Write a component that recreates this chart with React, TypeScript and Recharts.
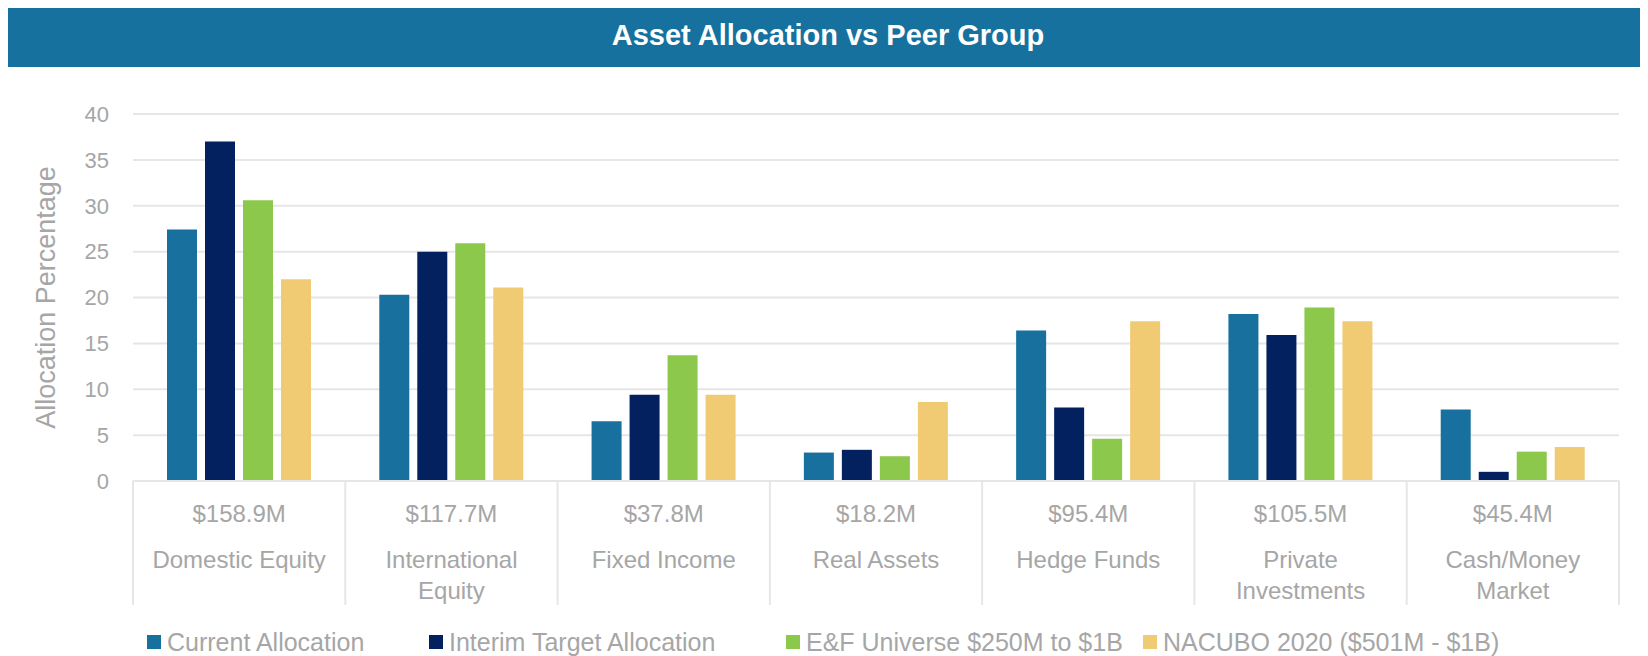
import { BarChart, Bar, XAxis, YAxis, CartesianGrid, Legend } from "recharts";

const categories = [
    "Domestic Equity",
    "International\nEquity",
    "Fixed Income",
    "Real Assets",
    "Hedge Funds",
    "Private\nInvestments",
    "Cash/Money\nMarket",
];
const assets = ["$158.9M", "$117.7M", "$37.8M", "$18.2M", "$95.4M", "$105.5M", "$45.4M"];

const currentAllocation = [27.4, 20.3, 6.5, 3.1, 16.4, 18.2, 7.8];
const interimTarget = [37.0, 25.0, 9.4, 3.4, 8.0, 15.9, 1.0];
const efUniverse = [30.6, 25.9, 13.7, 2.7, 4.6, 18.9, 3.2];
const nacubo = [22.0, 21.1, 9.4, 8.6, 17.4, 17.4, 3.7];

const yTicks = [0, 5, 10, 15, 20, 25, 30, 35, 40];

const series = [
    { key: "current", name: "Current Allocation", color: "#17709e" },
    { key: "interim", name: "Interim Target Allocation", color: "#02215e" },
    { key: "ef", name: "E&F Universe $250M to $1B", color: "#8cc84b" },
    { key: "nacubo", name: "NACUBO 2020 ($501M - $1B)", color: "#f0cb74" },
];

const data = categories.map((c, i) => ({
    category: c,
    assets: assets[i],
    current: currentAllocation[i],
    interim: interimTarget[i],
    ef: efUniverse[i],
    nacubo: nacubo[i],
}));

const FONT = "'Liberation Sans', Arial, Helvetica, sans-serif";
const GRAY = "#a6a6a6";
const LINE = "#e6e6e6";

const CHART_W = 1640;
const CHART_H = 589;
const Y_AXIS_W = 125;
const RIGHT = 29;
const BAND = (CHART_W - Y_AXIS_W - RIGHT) / categories.length;

// left edge of each legend swatch, in chart pixels
const legendX = [139, 421, 778, 1135];

const CategoryTick = (props: any) => {
    const { x, y, payload, index } = props;
    const row = data[index] || data.find((d) => d.category === payload.value);
    const lines = String(payload.value).split("\n");
    const left = x - BAND / 2;
    const right = x + BAND / 2;
    return (
        <g>
            <line x1={left} y1={y} x2={left} y2={y + 124} stroke={LINE} strokeWidth={2} />
            {index === categories.length - 1 && (
                <line x1={right} y1={y} x2={right} y2={y + 124} stroke={LINE} strokeWidth={2} />
            )}
            <text x={x} y={y + 32} textAnchor="middle" dominantBaseline="central" fill={GRAY} fontSize={24} fontFamily={FONT}>
                {row ? row.assets : ""}
            </text>
            {lines.map((l, i) => (
                <text
                    key={i}
                    x={x}
                    y={y + 78 + i * 31}
                    textAnchor="middle"
                    dominantBaseline="central"
                    fill={GRAY}
                    fontSize={24}
                    fontFamily={FONT}
                >
                    {l}
                </text>
            ))}
        </g>
    );
};

const LegendContent = () => (
    <div
        style={{
            position: "relative",
            height: 40,
            fontFamily: FONT,
            fontSize: 25,
            color: GRAY,
            whiteSpace: "nowrap",
        }}
    >
        {series.map((s, i) => (
            <div
                key={s.key}
                style={{ position: "absolute", left: legendX[i], top: 12, display: "flex", alignItems: "center", height: 28 }}
            >
                <span style={{ width: 14, height: 14, background: s.color, marginRight: 6, display: "inline-block" }} />
                <span>{s.name}</span>
            </div>
        ))}
    </div>
);

const App = () => {
    return (
        <div style={{ position: "relative", top: -5, width: CHART_W }}>
            <div
                style={{
                    height: 64,
                    lineHeight: "64px",
                    background: "#17719e",
                    color: "#fff",
                    fontFamily: FONT,
                    fontWeight: "bold",
                    fontSize: 29,
                    textAlign: "center",
                }}
            >
                Asset Allocation vs Peer Group
            </div>
            <BarChart
                width={CHART_W}
                height={CHART_H}
                data={data}
                barSize={30}
                barGap={8}
                margin={{ top: 47, right: RIGHT, left: 0, bottom: 0 }}
            >
                <CartesianGrid vertical={false} stroke={LINE} strokeWidth={2} />
                <XAxis
                    dataKey="category"
                    height={135}
                    interval={0}
                    tickSize={0}
                    tickMargin={0}
                    tickLine={false}
                    axisLine={{ stroke: LINE, strokeWidth: 2 }}
                    tick={<CategoryTick />}
                />
                <YAxis
                    width={Y_AXIS_W}
                    domain={[0, 40]}
                    ticks={yTicks}
                    tickSize={0}
                    tickMargin={24}
                    tickLine={false}
                    axisLine={false}
                    tick={{ fill: GRAY, fontSize: 22, fontFamily: FONT }}
                    label={{
                        value: "Allocation Percentage",
                        angle: -90,
                        position: "insideLeft",
                        dx: 32,
                        style: { fill: GRAY, fontSize: 27, fontFamily: FONT, textAnchor: "middle" },
                    }}
                />
                <Legend verticalAlign="bottom" content={<LegendContent />} />
                {series.map((s) => (
                    <Bar key={s.key} dataKey={s.key} name={s.name} fill={s.color} isAnimationActive={false} />
                ))}
            </BarChart>
        </div>
    );
};

export default App;
